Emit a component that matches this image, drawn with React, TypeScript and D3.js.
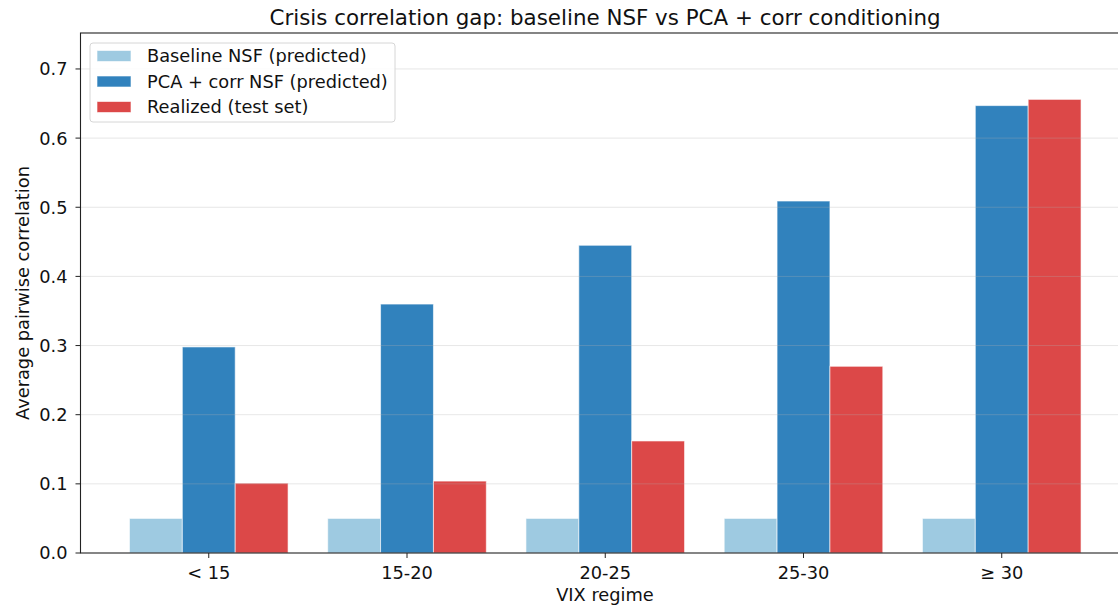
import { useEffect, useRef } from 'react';
import * as d3 from 'd3';

const categories = ['< 15', '15-20', '20-25', '25-30', '≥ 30'];
const baseline = [0.05, 0.05, 0.05, 0.05, 0.05];
const pcaCorr = [0.298, 0.36, 0.445, 0.509, 0.647];
const realized = [0.101, 0.104, 0.162, 0.27, 0.656];
const seriesNames = ['Baseline NSF (predicted)', 'PCA + corr NSF (predicted)', 'Realized (test set)'];
const seriesColors = ['#9ecae1', '#3182bd', '#dc4848'];
const yTicks = [0, 0.1, 0.2, 0.3, 0.4, 0.5, 0.6, 0.7];

const App = () => {
    const svgRef = useRef<SVGSVGElement | null>(null);

    useEffect(() => {
        if (!svgRef.current) return;
        d3.select(svgRef.current).selectAll('*').remove();

        const W = 1118;
        const H = 605;
        const margin = { top: 33, left: 80.5, bottom: 52 };
        const plotRight = 1130;
        const width = plotRight - margin.left;
        const height = H - margin.top - margin.bottom;
        const font = "'DejaVu Sans', sans-serif";
        const fs = '17.8px';

        const svg = d3.select(svgRef.current)
            .attr('width', W)
            .attr('height', H)
            .attr('font-family', font);

        svg.append('rect').attr('width', W).attr('height', H).attr('fill', '#fff');

        const g = svg.append('g').attr('transform', `translate(${margin.left},${margin.top})`);

        // Continuous x like matplotlib: category index positions
        const xScale = d3.scaleLinear().domain([-0.647, 4.647]).range([0, width]);
        const yScale = d3.scaleLinear().domain([0, 0.752]).range([height, 0]);

        const barW = 0.8 / 3;
        const series = [baseline, pcaCorr, realized];

        series.forEach((vals, si) => {
            g.selectAll(`.bar-${si}`)
                .data(vals)
                .enter()
                .append('rect')
                .attr('x', (_d, i) => xScale(i + (si - 1.5) * barW))
                .attr('y', d => yScale(d))
                .attr('width', xScale(barW) - xScale(0))
                .attr('height', d => height - yScale(d))
                .attr('fill', seriesColors[si])
                .attr('stroke', '#fff')
                .attr('stroke-opacity', 0.6)
                .attr('stroke-width', 1);
        });

        // Grid (drawn over bars)
        g.selectAll('.grid')
            .data(yTicks.slice(1))
            .enter()
            .append('line')
            .attr('x1', 0)
            .attr('x2', width)
            .attr('y1', d => yScale(d))
            .attr('y2', d => yScale(d))
            .attr('stroke', '#b0b0b0')
            .attr('stroke-opacity', 0.3)
            .attr('stroke-width', 1);

        // Spines
        g.append('rect')
            .attr('x', 0).attr('y', 0)
            .attr('width', width).attr('height', height)
            .attr('fill', 'none')
            .attr('stroke', '#222')
            .attr('stroke-width', 1.1);

        // Y axis ticks
        const yAxis = g.append('g');
        yTicks.forEach(t => {
            yAxis.append('line')
                .attr('x1', -5).attr('x2', 0)
                .attr('y1', yScale(t)).attr('y2', yScale(t))
                .attr('stroke', '#222');
            yAxis.append('text')
                .attr('x', -13)
                .attr('y', yScale(t))
                .attr('dy', '0.36em')
                .attr('text-anchor', 'end')
                .attr('font-size', fs)
                .attr('fill', '#111')
                .text(t.toFixed(1));
        });

        // X axis ticks
        const xAxis = g.append('g').attr('transform', `translate(0,${height})`);
        categories.forEach((c, i) => {
            xAxis.append('line')
                .attr('x1', xScale(i)).attr('x2', xScale(i))
                .attr('y1', 0).attr('y2', 5)
                .attr('stroke', '#222');
            xAxis.append('text')
                .attr('x', xScale(i))
                .attr('y', 26)
                .attr('text-anchor', 'middle')
                .attr('font-size', fs)
                .attr('fill', '#111')
                .text(c);
        });

        // Axis labels
        svg.append('text')
            .attr('x', 605)
            .attr('y', 601)
            .attr('text-anchor', 'middle')
            .attr('font-size', fs)
            .attr('fill', '#111')
            .text('VIX regime');

        svg.append('text')
            .attr('transform', `translate(29,${margin.top + height / 2}) rotate(-90)`)
            .attr('text-anchor', 'middle')
            .attr('font-size', fs)
            .attr('fill', '#111')
            .text('Average pairwise correlation');

        // Title
        svg.append('text')
            .attr('x', 605)
            .attr('y', 25)
            .attr('text-anchor', 'middle')
            .attr('font-size', '21.4px')
            .attr('fill', '#111')
            .text('Crisis correlation gap: baseline NSF vs PCA + corr conditioning');

        // Legend
        const legend = svg.append('g').attr('transform', 'translate(90,43)');
        legend.append('rect')
            .attr('width', 305).attr('height', 79)
            .attr('rx', 3)
            .attr('fill', '#fff')
            .attr('fill-opacity', 0.85)
            .attr('stroke', '#d6d6d6');
        seriesNames.forEach((name, i) => {
            const cy = 13 + i * 25.5;
            legend.append('rect')
                .attr('x', 7).attr('y', cy - 5.5)
                .attr('width', 34).attr('height', 11)
                .attr('fill', seriesColors[i])
                .attr('stroke', '#fff')
                .attr('stroke-opacity', 0.6);
            legend.append('text')
                .attr('x', 57)
                .attr('y', cy)
                .attr('dy', '0.36em')
                .attr('font-size', fs)
                .attr('fill', '#111')
                .text(name);
        });
    }, []);

    return (
        <div style={{ position: 'absolute', left: 0, top: 0, width: 1118, height: 605, overflow: 'hidden' }}>
            <svg ref={svgRef} style={{ display: 'block' }}></svg>
        </div>
    );
};

export default App;
